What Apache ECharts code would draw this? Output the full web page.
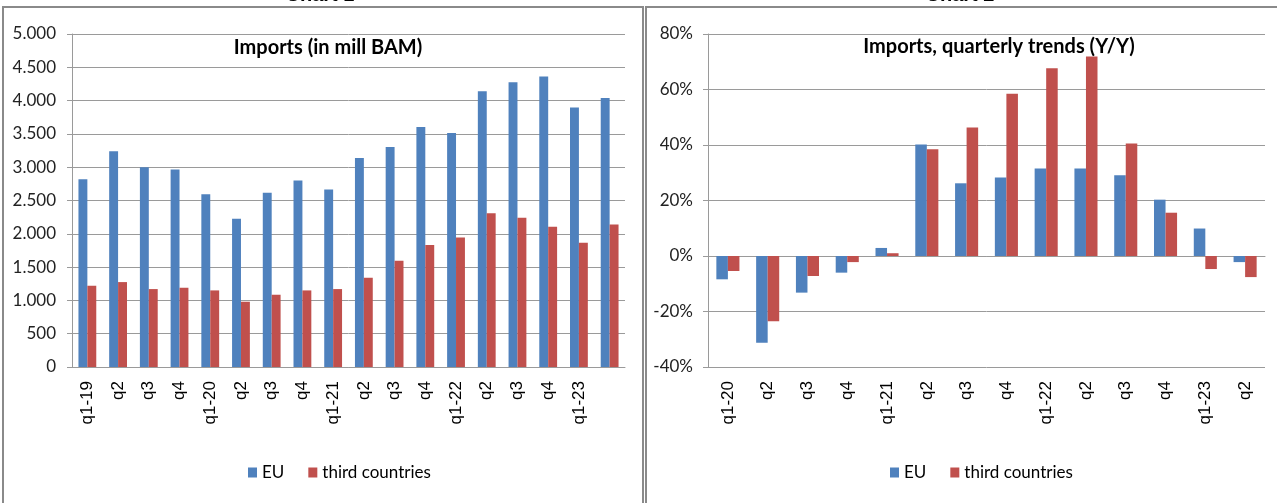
<!DOCTYPE html>
<html>
<head>
<meta charset="utf-8">
<title>Imports</title>
<script src="https://cdn.jsdelivr.net/npm/echarts@6/dist/echarts.min.js"></script>
<style>
    html, body { margin: 0; padding: 0; background: #fff; }
    #importsMain { width: 1277px; height: 503px; }
</style>
</head>
<body>
<div id="importsMain"></div>
<script>
// chart 1 - imports in mill BAM
var quartersLevel = ['q1-19', 'q2', 'q3', 'q4', 'q1-20', 'q2', 'q3', 'q4', 'q1-21', 'q2', 'q3', 'q4', 'q1-22', 'q2', 'q3', 'q4', 'q1-23', ''];
var importsEU = [2820, 3240, 3000, 2965, 2595, 2225, 2615, 2800, 2665, 3140, 3305, 3605, 3515, 4140, 4275, 4360, 3895, 4040];
var importsThird = [1220, 1275, 1170, 1190, 1150, 980, 1085, 1150, 1170, 1340, 1595, 1830, 1945, 2310, 2240, 2105, 1865, 2140];

// chart 2 - quarterly trends Y/Y (%)
var quartersTrend = ['q1-20', 'q2', 'q3', 'q4', 'q1-21', 'q2', 'q3', 'q4', 'q1-22', 'q2', 'q3', 'q4', 'q1-23', 'q2'];
var trendEU = [-8.4, -31.3, -13.2, -6.0, 2.9, 40.2, 26.2, 28.3, 31.5, 31.5, 29.1, 20.3, 9.9, -2.2];
var trendThird = [-5.4, -23.5, -7.2, -2.2, 1.0, 38.5, 46.3, 58.5, 67.7, 71.9, 40.5, 15.6, -4.7, -7.6];

var seriesNames = ['EU', 'third countries'];
var blue = '#4f81bd';
var red = '#c0504d';
var gridGray = '#9a9a9a';
var calibriLike = "Lato, 'Open Sans', sans-serif";

function thousandsDot(v) {
    if (v < 1000) return String(v);
    return Math.floor(v / 1000) + '.' + String(v % 1000).padStart(3, '0');
}

function importsChartInit() {

    var chartDom = document.getElementById('importsMain');
    var myChart = echarts.init(chartDom, null, { renderer: 'canvas' });
    var option;

    var xLabel = {
        interval: 0,
        rotate: 90,
        margin: 14,
        fontSize: 17,
        color: '#000',
        fontFamily: "'Liberation Sans', Arial, sans-serif"
    };

    option = {
        backgroundColor: '#fff',
        animation: false,
        title: [
            {
                text: 'Imports (in mill BAM)',
                left: 323, top: 33, textAlign: 'center',
                textStyle: { fontSize: 20, fontWeight: 'bold', color: '#000', fontFamily: calibriLike }
            },
            {
                text: 'Imports, quarterly trends (Y/Y)',
                left: 994, top: 32, textAlign: 'center',
                textStyle: { fontSize: 20, fontWeight: 'bold', color: '#000', fontFamily: calibriLike }
            }
        ],
        legend: [
            {
                data: seriesNames, left: 243, top: 459,
                itemWidth: 9, itemHeight: 10, itemGap: 24,
                icon: 'rect',
                textStyle: { fontSize: 17, color: '#000', fontFamily: calibriLike }
            },
            {
                data: seriesNames, left: 885, top: 459,
                itemWidth: 9, itemHeight: 10, itemGap: 24,
                icon: 'rect',
                textStyle: { fontSize: 17, color: '#000', fontFamily: calibriLike }
            }
        ],
        grid: [
            { left: 72, top: 34, width: 553, height: 333 },
            { left: 708, top: 34, width: 557, height: 333 }
        ],
        xAxis: [
            {
                type: 'category', gridIndex: 0, data: quartersLevel,
                axisLine: { lineStyle: { color: gridGray } },
                axisTick: { length: 6, lineStyle: { color: gridGray } },
                axisLabel: xLabel
            },
            {
                type: 'category', gridIndex: 1, data: quartersTrend,
                axisLine: { show: false, onZero: false },
                axisTick: { show: false },
                axisLabel: xLabel
            },
            {
                type: 'category', gridIndex: 1, data: quartersTrend, position: 'top',
                axisLine: { onZero: true, lineStyle: { color: gridGray } },
                axisTick: { inside: true, length: 6, lineStyle: { color: gridGray } },
                axisLabel: { show: false }
            }
        ],
        yAxis: [
            {
                type: 'value', gridIndex: 0, min: 0, max: 5000, interval: 500,
                axisLine: { show: true, lineStyle: { color: gridGray } },
                axisTick: { show: true, length: 5, lineStyle: { color: gridGray } },
                splitLine: { lineStyle: { color: gridGray } },
                axisLabel: { formatter: thousandsDot, margin: 16, fontSize: 17, color: '#222', fontFamily: calibriLike }
            },
            {
                type: 'value', gridIndex: 1, min: -40, max: 80, interval: 20,
                axisLine: { show: true, lineStyle: { color: gridGray } },
                axisTick: { show: true, length: 5, lineStyle: { color: gridGray } },
                splitLine: { lineStyle: { color: gridGray } },
                axisLabel: { formatter: '{value}%', margin: 15, fontSize: 17, color: '#222', fontFamily: calibriLike }
            }
        ],
        series: [
            {
                name: 'EU', type: 'bar', xAxisIndex: 0, yAxisIndex: 0,
                data: importsEU, itemStyle: { color: blue },
                barGap: '0%', barCategoryGap: '42%'
            },
            {
                name: 'third countries', type: 'bar', xAxisIndex: 0, yAxisIndex: 0,
                data: importsThird, itemStyle: { color: red },
                barGap: '0%', barCategoryGap: '42%'
            },
            {
                name: 'EU', type: 'bar', xAxisIndex: 1, yAxisIndex: 1,
                data: trendEU, itemStyle: { color: blue },
                barGap: '0%', barCategoryGap: '42%'
            },
            {
                name: 'third countries', type: 'bar', xAxisIndex: 1, yAxisIndex: 1,
                data: trendThird, itemStyle: { color: red },
                barGap: '0%', barCategoryGap: '42%'
            }
        ],
        graphic: [
            // frames round the two charts
            { type: 'rect', shape: { x: 3, y: 7, width: 640, height: 520 }, style: { fill: null, stroke: '#8a8a8a', lineWidth: 2 }, silent: true },
            { type: 'rect', shape: { x: 646, y: 7, width: 640, height: 520 }, style: { fill: null, stroke: '#8a8a8a', lineWidth: 2 }, silent: true },
            // captions above, cut off by the page edge
            { type: 'text', x: 320, y: 5, style: { text: 'Chart 1', fill: '#000', font: "bold 20px 'Liberation Sans', sans-serif", textAlign: 'center', textVerticalAlign: 'bottom' } },
            { type: 'text', x: 960, y: 5, style: { text: 'Chart 2', fill: '#000', font: "bold 20px 'Liberation Sans', sans-serif", textAlign: 'center', textVerticalAlign: 'bottom' } }
        ]
    };

    option && myChart.setOption(option);

}

importsChartInit();
</script>
</body>
</html>
